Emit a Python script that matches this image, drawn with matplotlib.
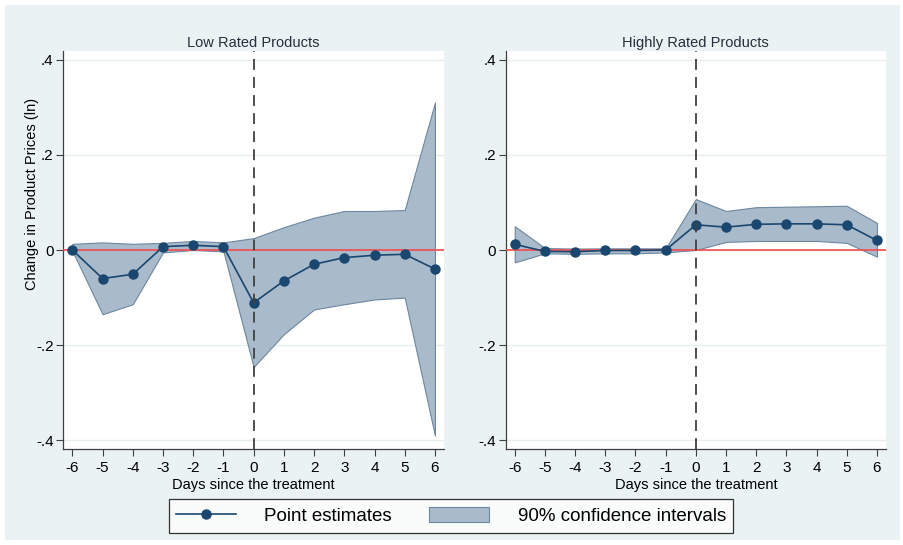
import matplotlib
matplotlib.use("Agg")
import matplotlib.pyplot as plt
import numpy as np
from matplotlib.patches import Rectangle, Patch
from matplotlib.lines import Line2D

plt.rcParams['font.family'] = ['Liberation Sans', 'DejaVu Sans']

days = [-6, -5, -4, -3, -2, -1, 0, 1, 2, 3, 4, 5, 6]

low_est = [0.0, -0.060, -0.051, 0.007, 0.010, 0.007, -0.111, -0.065, -0.030, -0.016, -0.011, -0.009, -0.040]
low_hi = [0.013, 0.016, 0.013, 0.015, 0.019, 0.016, 0.025, 0.048, 0.068, 0.082, 0.082, 0.084, 0.310]
low_lo = [-0.002, -0.135, -0.114, -0.005, 0.000, -0.003, -0.246, -0.177, -0.125, -0.114, -0.104, -0.100, -0.390]

high_est = [0.012, -0.003, -0.0035, -0.001, -0.001, 0.0, 0.053, 0.048, 0.054, 0.055, 0.055, 0.053, 0.020]
high_hi = [0.050, 0.004, 0.003, 0.0035, 0.0035, 0.0035, 0.107, 0.082, 0.090, 0.091, 0.092, 0.093, 0.057]
high_lo = [-0.026, -0.007, -0.008, -0.007, -0.007, -0.005, 0.0, 0.017, 0.019, 0.019, 0.019, 0.015, -0.014]

titles = ["Low Rated Products", "Highly Rated Products"]
yticks = [-0.4, -0.2, 0, 0.2, 0.4]
ytick_labels = ["-.4", "-.2", "0", ".2", ".4"]

navy = '#1a476f'
band = '#a9bacb'
band_edge = '#6c87a0'
bg = '#eaf2f3'

fig = plt.figure(figsize=(9.04, 5.45), dpi=100, facecolor='white')
fig.patches.append(Rectangle((5/904, 5/545), 895/904, 535/545, transform=fig.transFigure,
                             facecolor=bg, edgecolor='none', zorder=-10))

ax1 = fig.add_axes([63.3/904, (545-449.3)/545, (444-63.3)/904, (449.3-50.7)/545])
ax2 = fig.add_axes([505.7/904, (545-449.3)/545, (886-505.7)/904, (449.3-50.7)/545])

for ax, title, est, hi, lo in [(ax1, titles[0], low_est, low_hi, low_lo),
                               (ax2, titles[1], high_est, high_hi, high_lo)]:
    ax.set_facecolor('white')
    for y in yticks:
        ax.axhline(y, color='#e6eeef', lw=1, zorder=0)
    ax.fill_between(days, lo, hi, facecolor=band, edgecolor=band_edge, lw=0.8, zorder=2)
    ax.axhline(0, color='#f24b4b', lw=1.2, zorder=3)
    ax.plot(days, est, color=navy, lw=1.2, marker='o', ms=6.5, zorder=4)
    ax.axvline(0, color='#404040', lw=1.3, ls=(0, (6, 4)), zorder=5)
    ax.set_xlim(-6.3, 6.3)
    ax.set_ylim(-0.419, 0.419)
    ax.set_xticks(days)
    ax.set_xticklabels([str(d) for d in days])
    ax.set_yticks(yticks)
    ax.set_yticklabels(ytick_labels)
    ax.tick_params(axis='both', labelsize=11, color='#404040', length=5, width=0.8)
    ax.tick_params(axis='y', pad=2)
    ax.spines['top'].set_visible(False)
    ax.spines['right'].set_visible(False)
    for s in ['left', 'bottom']:
        ax.spines[s].set_color('#404040')
        ax.spines[s].set_linewidth(0.9)
    ax.set_title(title, fontsize=10.5, color='#25303c', pad=3)
    ax.set_xlabel("Days since the treatment", fontsize=10.5, labelpad=2)

ax1.set_ylabel("Change in Product Prices (ln)", fontsize=10.5)
ax1.yaxis.set_label_coords(-0.064, 0.64)

handles = [Line2D([], [], color=navy, lw=1.2, marker='o', ms=6.5),
           Patch(facecolor=band, edgecolor=band_edge, lw=0.8)]
leg = fig.legend(handles, ["Point estimates", "90% confidence intervals"],
                 loc='center', bbox_to_anchor=(451/904, (545-516)/545), ncol=2,
                 fontsize=13.5, frameon=True, fancybox=False, edgecolor='black',
                 handlelength=3.2, handletextpad=1.5, columnspacing=2.0,
                 borderpad=0.4, handleheight=0.9)
leg.get_frame().set_linewidth(0.9)

fig.savefig("out.png", dpi=100, facecolor='white')
